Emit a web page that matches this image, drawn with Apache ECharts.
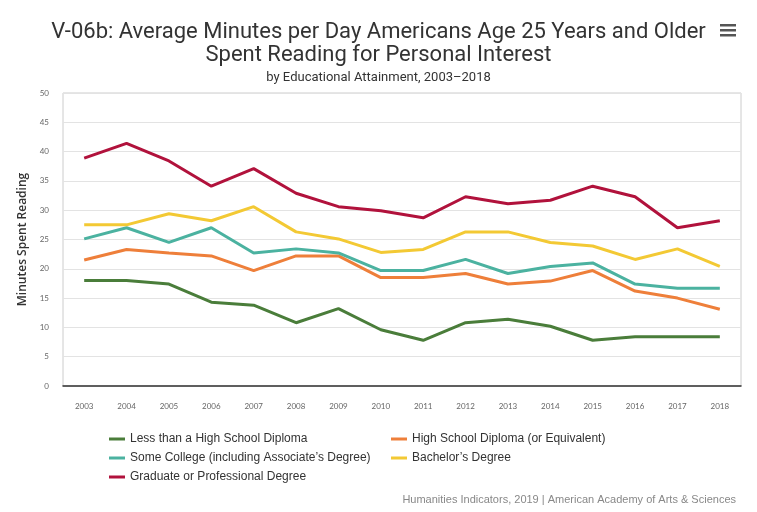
<!DOCTYPE html>
<html><head><meta charset="utf-8">
<script src="https://cdn.jsdelivr.net/npm/echarts@6/dist/echarts.min.js"></script>
<style>html,body{margin:0;padding:0;background:#fff}#c{width:757px;height:512px}</style>
</head><body><div id="c"></div>
<script>
const years = ['2003','2004','2005','2006','2007','2008','2009','2010','2011','2012','2013','2014','2015','2016','2017','2018'];
const lessHS = [18.0,18.0,17.4,14.3,13.8,10.8,13.2,9.6,7.8,10.8,11.4,10.2,7.8,8.4,8.4,8.4];
const hsDiploma = [21.5,23.3,22.7,22.2,19.7,22.2,22.2,18.5,18.5,19.2,17.4,17.9,19.7,16.2,15.0,13.1];
const someCollege = [25.1,27.0,24.5,27.0,22.7,23.4,22.7,19.7,19.7,21.6,19.2,20.4,21.0,17.4,16.7,16.7];
const bachelors = [27.5,27.5,29.4,28.2,30.6,26.3,25.1,22.8,23.3,26.3,26.3,24.5,23.9,21.6,23.4,20.4];
const graduate = [38.9,41.4,38.4,34.1,37.1,32.9,30.6,29.9,28.7,32.3,31.1,31.7,34.1,32.3,27.0,28.2];
const seriesNames = ['Less than a High School Diploma','High School Diploma (or Equivalent)','Some College (including Associate\u2019s Degree)','Bachelor\u2019s Degree','Graduate or Professional Degree'];
const colors = ['#4a7d3a','#ee7f3a','#4bb2a0','#f3c934','#b1123c'];

const chart = echarts.init(document.getElementById('c'));
const dataSets = [lessHS,hsDiploma,someCollege,bachelors,graduate];
const legendBase = {orient:'vertical',itemWidth:16,itemHeight:3,itemGap:7,icon:'rect',
    textStyle:{fontFamily:'Liberation Sans',fontSize:12,color:'#333'}};
chart.setOption({
  animation:false,
  title:[
    {text:'V-06b: Average Minutes per Day Americans Age 25 Years and Older\nSpent Reading for Personal Interest',left:'center',top:16,
     textStyle:{fontFamily:'Roboto',fontWeight:'normal',fontSize:22,color:'#333',lineHeight:23}},
    {text:'by Educational Attainment, 2003\u20132018',left:'center',top:66,textStyle:{fontFamily:'Roboto',fontWeight:'normal',fontSize:13,color:'#333'}},
    {text:'Humanities Indicators, 2019 | American Academy of Arts & Sciences',right:16,top:489,textStyle:{fontFamily:'Liberation Sans',fontWeight:'normal',fontSize:11,color:'#888'}}
  ],
  graphic:[
    {type:'rect',shape:{x:720,y:24,width:16,height:2.5},style:{fill:'#555'}},
    {type:'rect',shape:{x:720,y:29,width:16,height:2.5},style:{fill:'#555'}},
    {type:'rect',shape:{x:720,y:34,width:16,height:2.5},style:{fill:'#555'}}
  ],
  grid:{left:63,right:16,top:93,bottom:126,show:true,borderColor:'#cccccc',borderWidth:1},
  legend:[
    Object.assign({left:104,top:428,data:[seriesNames[0],seriesNames[2],seriesNames[4]]},legendBase),
    Object.assign({left:386,top:428,data:[seriesNames[1],seriesNames[3]]},legendBase)
  ],
  xAxis:{type:'category',data:years,boundaryGap:true,
    axisLine:{lineStyle:{color:'#333',width:1.5}},
    axisTick:{alignWithLabel:true,length:9,lineStyle:{color:'#333'}},
    axisLabel:{fontSize:8,color:'#666',margin:16,fontFamily:'Lato'}},
  yAxis:{type:'value',min:0,max:50,interval:5,
    name:'Minutes Spent Reading',nameLocation:'middle',nameGap:34,
    nameTextStyle:{fontFamily:'Open Sans',fontSize:12,fontWeight:600,color:'#333'},
    axisLabel:{fontSize:8,color:'#666',margin:14,fontFamily:'Lato'},
    splitLine:{lineStyle:{color:'#e3e3e3'}}},
  series:dataSets.map((d,i)=>({name:seriesNames[i],type:'line',data:d,symbol:'none',
    lineStyle:{width:3,color:colors[i]},itemStyle:{color:colors[i]}}))
});
</script></body></html>
